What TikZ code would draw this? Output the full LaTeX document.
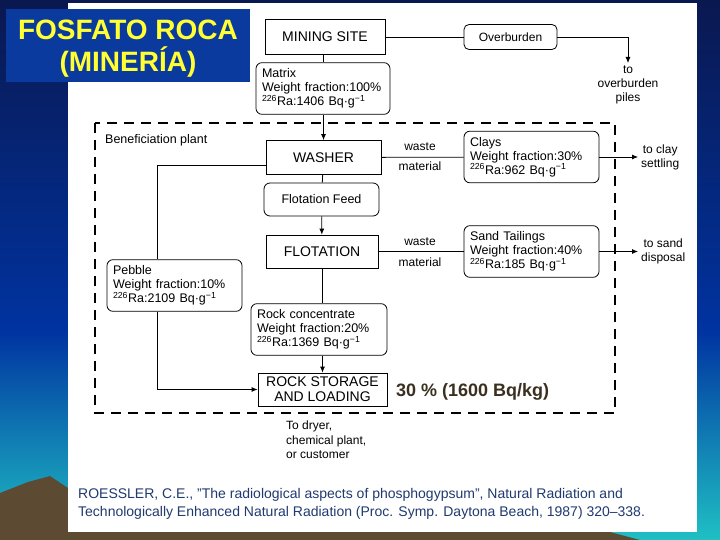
\documentclass[tikz,border=0pt]{standalone}
\usepackage{fontspec}
\setmainfont{Liberation Sans}
\usetikzlibrary{arrows.meta,positioning}
\definecolor{navy}{HTML}{0A1850}
\definecolor{slideblue}{HTML}{0033A0}
\definecolor{slideteal}{HTML}{1FC0C4}
\definecolor{dune}{HTML}{5C4A32}
\definecolor{titleblue}{HTML}{0A3A9E}
\definecolor{titleyellow}{HTML}{FFFF33}
\definecolor{notebrown}{HTML}{3A3020}
\definecolor{citeblue}{HTML}{203A70}

\begin{document}
\begin{tikzpicture}[x=1pt, y=-1pt,
    sqbox/.style={draw, line width=0.8pt, minimum width=115pt, minimum height=34pt, inner sep=2pt, font=\fontsize{14}{15}\selectfont},
    rdbox/.style={draw, line width=0.8pt, rounded corners=6pt, text width=123pt, minimum height=50pt, inner sep=6pt, align=left, font=\fontsize{12.5}{14}\selectfont},
    lbl/.style={inner sep=0pt, font=\fontsize{12}{14}\selectfont},
    flow/.style={line width=0.8pt},
    arr/.style={flow, -{Latex[length=6pt,width=5pt]}}]
        \useasboundingbox (0,0) rectangle (720,540);
        % slide background
        \shade [top color=navy, bottom color=slideblue] (0,0) rectangle (720,330);
        \shade [top color=slideblue, bottom color=slideteal] (0,330) rectangle (720,540);
        \fill [dune] (0,493) -- (28,482) -- (50,476) -- (68,488) -- (68,532) -- (610,532) -- (640,540) -- (0,540) -- cycle;
        \fill [white] (68,3) rectangle (697,532);
        \node (title) [fill=titleblue, minimum width=244pt, minimum height=73pt, text depth=0pt, align=center, text=titleyellow, font=\fontsize{28}{32}\selectfont\bfseries] at (128,45.5) {FOSFATO ROCA\\(MINERÍA)};
        % mining
        \node (mining) [sqbox, minimum width=120pt, minimum height=35pt] at (325,37) {MINING SITE};
        \node (overburden) [draw, line width=0.8pt, rounded corners=5pt, minimum width=93pt, minimum height=25pt, font=\fontsize{12}{14}\selectfont] at (510.5,37) {Overburden};
        \coordinate (obcorner) at (628,37);
        \coordinate (obend) at (628,63);
        \node (piles) [lbl, align=center, below=3pt of obend] {to\\overburden\\piles};
        \node (matrix) [rdbox, text width=122pt, minimum height=51pt] at (323,88.5) {Matrix\\Weight fraction:100\%\\\textsuperscript{226}Ra:1406 Bq·g\textsuperscript{−1}};
        \draw [flow] (mining) -- (overburden);
        \draw [arr] (overburden) -- (obcorner) -- (obend);
        \draw [flow] (mining.south -| matrix.north) -- (matrix.north);
        % beneficiation plant
        \draw [line width=2.6pt, dash pattern=on 10pt off 7pt] (95,123) rectangle (615,413);
        \node (plant) [lbl, anchor=west, font=\fontsize{12.5}{14}\selectfont] at (105,140) {Beneficiation plant};
        \node (washer) [sqbox] at (323.5,157.5) {WASHER};
        \node (clays) [rdbox] at (531.5,157) {Clays\\Weight fraction:30\%\\\textsuperscript{226}Ra:962 Bq·g\textsuperscript{−1}};
        \node (feed) [draw, line width=0.8pt, rounded corners=6pt, minimum width=115pt, minimum height=33pt, font=\fontsize{12.5}{14}\selectfont] at (321.5,199.5) {Flotation Feed};
        \node (flotation) [sqbox, minimum width=112pt, minimum height=33pt] at (322,251.5) {FLOTATION};
        \node (sand) [rdbox, minimum height=49pt] at (531.5,251.5) {Sand Tailings\\Weight fraction:40\%\\\textsuperscript{226}Ra:185 Bq·g\textsuperscript{−1}};
        \node (pebble) [rdbox, minimum height=51pt] at (174.5,285.5) {Pebble\\Weight fraction:10\%\\\textsuperscript{226}Ra:2109 Bq·g\textsuperscript{−1}};
        \node (concentrate) [rdbox, text width=124pt, minimum height=51pt] at (319,329.5) {Rock concentrate\\Weight fraction:20\%\\\textsuperscript{226}Ra:1369 Bq·g\textsuperscript{−1}};
        \node (storage) [sqbox, minimum width=129pt, minimum height=33pt, align=center] at (322.5,389.5) {ROCK STORAGE\\AND LOADING};
        \node (note) [anchor=west, inner sep=0pt, text=notebrown, font=\fontsize{18}{20}\selectfont\bfseries] at (396,392) {30 \% (1600 Bq/kg)};
        \coordinate (clayend) at (638,157);
        \coordinate (sandend) at (638,251.5);
        \node (settling) [lbl, align=center, right=3pt of clayend] {to clay\\settling};
        \node (disposal) [lbl, align=center, right=3pt of sandend] {to sand\\disposal};
        \node (waste1) [lbl] at (420,147) {waste};
        \node (material1) [lbl] at (420,166) {material};
        \node (waste2) [lbl] at (420,242) {waste};
        \node (material2) [lbl] at (420,262) {material};
        \draw [arr] (matrix.south -| washer.north) -- (washer.north);
        \draw [flow] (washer) -- (clays);
        \draw [arr] (clays) -- (clayend);
        \draw [flow] (washer) -- (feed);
        \draw [arr] (feed) -- (flotation);
        \draw [flow] (flotation) -- (sand);
        \draw [arr] (sand) -- (sandend);
        \draw [flow] (flotation.south) -- (flotation.south |- concentrate.north);
        \draw [arr] (concentrate.south -| storage.north) -- (storage.north);
        \draw [flow] ([yshift=-7.5pt]washer.west) -| ([xshift=-17.5pt]pebble.north);
        \draw [arr] ([xshift=-17.5pt]pebble.south) |- (storage.west);
        % outlet and reference
        \node (outlet) [lbl, anchor=north west, align=left, font=\fontsize{12}{14.5}\selectfont] at (286,421) {To dryer,\\chemical plant,\\or customer};
        \node (cite) [anchor=north west, inner sep=0pt, align=left, text=citeblue, font=\fontsize{14}{18}\selectfont] at (78,488) {ROESSLER, C.E., "The radiological aspects of phosphogypsum", Natural Radiation and\\Technologically Enhanced Natural Radiation (Proc. Symp. Daytona Beach, 1987) 320–338.};
\end{tikzpicture}
\end{document}
